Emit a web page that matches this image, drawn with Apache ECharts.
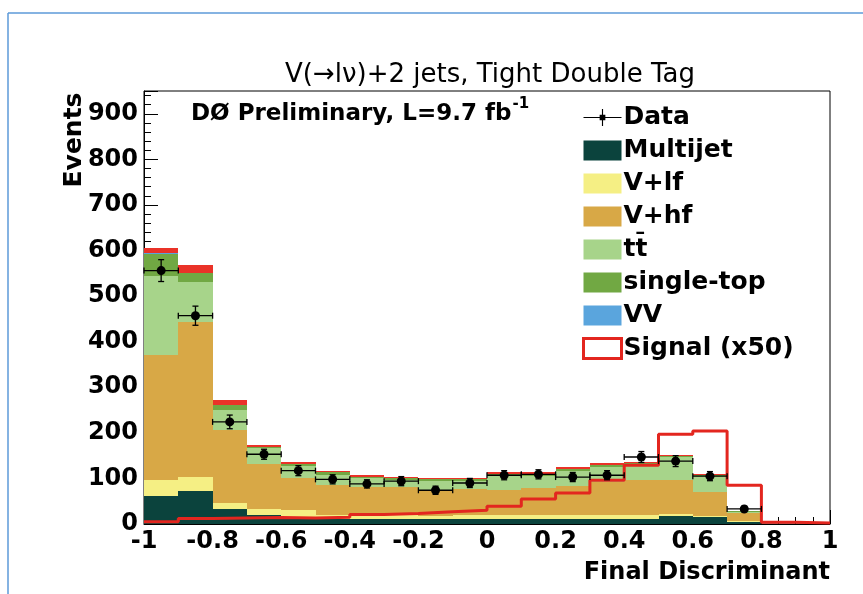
<!DOCTYPE html>
<html>
<head>
<meta charset="utf-8">
<script src="https://cdn.jsdelivr.net/npm/echarts@6/dist/echarts.min.js"></script>
<style>
  html, body { margin: 0; padding: 0; background: #fff; }
  #chart { width: 863px; height: 594px; }
</style>
</head>
<body>
<div id="chart"></div>
<script>
// bins of the final discriminant, width 0.1
const binLow = [-1, -0.9, -0.8, -0.7, -0.6, -0.5, -0.4, -0.3, -0.2, -0.1, 0, 0.1, 0.2, 0.3, 0.4, 0.5, 0.6, 0.7, 0.8, 0.9];
const binWidth = 0.1;

// stacked backgrounds (events per bin), bottom to top
const multijet  = [61, 72, 33, 20, 14, 12, 12, 12, 12, 12, 12, 12, 12, 12, 12, 18, 15, 4, 0, 0];
const vlf       = [35, 31, 13, 13, 16, 8, 12, 12, 6, 8, 8, 8, 8, 8, 8, 5, 2, 2, 0, 0];
const vhf       = [274, 341, 160, 99, 70, 65, 57, 57, 56, 56, 54, 59, 63, 72, 76, 73, 53, 19, 0, 0];
const ttbar     = [175, 86, 44, 34, 28, 23, 19, 16, 21, 19, 31, 27, 33, 33, 35, 50, 35, 2, 0, 0];
const singleTop = [48, 20, 10, 2, 4, 5, 4, 3, 3, 3, 4, 3, 4, 4, 3, 3, 2, 1, 0, 0];
const vv        = [1, 1, 0, 0, 0, 0, 0, 0, 0, 0, 0, 0, 0, 0, 0, 0, 0, 0, 0, 0];
const topBand   = [12, 18, 12, 6, 5, 4, 4, 4, 4, 4, 4, 4, 4, 4, 3, 3, 2, 0, 0, 0];

// data and signal x50
const dataCounts = [556, 457, 224, 153, 117, 98, 88, 94, 74, 90, 107, 109, 103, 107, 147, 138, 105, 33, null, null];
const dataErr    = [24, 21, 15, 11, 11, 10, 9, 10, 9, 10, 10, 10, 10, 10, 12, 12, 10, 6, null, null];
const signal50   = [5, 12, 13, 14, 13, 15, 21, 23, 27, 30, 39, 55, 68, 96, 129, 197, 204, 85, 4, 2];

const yTicks = [0, 100, 200, 300, 400, 500, 600, 700, 800, 900];

const layers = [
  { name: "Multijet", values: multijet, color: "#0b433d" },
  { name: "V+lf", values: vlf, color: "#f5ef84" },
  { name: "V+hf", values: vhf, color: "#d8a846" },
  { name: "tt\u0304", values: ttbar, color: "#a7d48a" },
  { name: "single-top", values: singleTop, color: "#71a843" },
  { name: "VV", values: vv, color: "#5aa5dd" },
  { name: "band", values: topBand, color: "#ea3228" },
];

const chart = echarts.init(document.getElementById("chart"));
const boldFont = "DejaVu Sans";

function renderBin(params, api) {
  const p0 = api.coord([api.value(0), api.value(3)]);
  const p1 = api.coord([api.value(1), api.value(2)]);
  const x0 = Math.round(p0[0]), x1 = Math.round(p1[0]);
  const y0 = Math.round(p0[1]), y1 = Math.round(p1[1]);
  if (y1 - y0 <= 0) return null;
  return {
    type: "rect",
    shape: { x: x0, y: y0, width: x1 - x0, height: y1 - y0 },
    style: { fill: api.visual("color") },
  };
}

function renderData(params, api) {
  const x = api.value(0), y = api.value(1), e = api.value(2);
  const c = api.coord([x, y]);
  const l = api.coord([x - binWidth / 2, y]);
  const r = api.coord([x + binWidth / 2, y]);
  const top = api.coord([x, y + e]);
  const bot = api.coord([x, y - e]);
  const ls = { stroke: "#000", lineWidth: 1.3 };
  return {
    type: "group",
    children: [
      { type: "line", shape: { x1: l[0], y1: l[1], x2: r[0], y2: r[1] }, style: ls },
      { type: "line", shape: { x1: l[0], y1: l[1] - 3, x2: l[0], y2: l[1] + 3 }, style: ls },
      { type: "line", shape: { x1: r[0], y1: r[1] - 3, x2: r[0], y2: r[1] + 3 }, style: ls },
      { type: "line", shape: { x1: c[0], y1: top[1], x2: c[0], y2: bot[1] }, style: ls },
      { type: "line", shape: { x1: c[0] - 3, y1: top[1], x2: c[0] + 3, y2: top[1] }, style: ls },
      { type: "line", shape: { x1: c[0] - 3, y1: bot[1], x2: c[0] + 3, y2: bot[1] }, style: ls },
      { type: "circle", shape: { cx: c[0], cy: c[1], r: 4.5 }, style: { fill: "#000" } },
    ],
  };
}

// build stacked bins
const base = binLow.map(() => 0);
const stackSeries = layers.map((layer) => {
  const items = binLow.map((lo, i) => {
    const b = base[i];
    base[i] += layer.values[i];
    return [lo, lo + binWidth, b, base[i]];
  });
  return {
    name: layer.name,
    type: "custom",
    renderItem: renderBin,
    itemStyle: { color: layer.color },
    encode: { x: [0, 1], y: [2, 3] },
    data: items,
    z: 2,
    silent: true,
  };
});

const signalLine = binLow.map((lo, i) => [lo, signal50[i]]);
signalLine.push([binLow[binLow.length - 1] + binWidth, signal50[signal50.length - 1]]);

const dataPoints = [];
binLow.forEach((lo, i) => {
  if (dataCounts[i] != null) dataPoints.push([lo + binWidth / 2, dataCounts[i], dataErr[i]]);
});

// measure the label so the superscript sits right after it
const ctx = document.createElement("canvas").getContext("2d");
ctx.font = 'bold 23px "' + boldFont + '"';
const prelimText = "D\u00d8 Preliminary, L=9.7 fb";
const prelimW = ctx.measureText(prelimText).width;

chart.setOption({
  backgroundColor: "#fff",
  animation: false,
  grid: { left: 144, right: 33, top: 91, bottom: 70, show: true, borderColor: "#000", borderWidth: 1, backgroundColor: "transparent" },
  xAxis: {
    type: "value",
    min: -1,
    max: 1,
    interval: 0.2,
    axisLine: { onZero: false, lineStyle: { color: "#000", width: 1 } },
    axisTick: { inside: true, length: 14, lineStyle: { color: "#000" } },
    minorTick: { show: true, splitNumber: 4, length: 7, lineStyle: { color: "#000" } },
    splitLine: { show: false },
    axisLabel: {
      color: "#000", fontFamily: boldFont, fontWeight: "bold", fontSize: 24, margin: 6,
      formatter: (v) => String(Number(v.toFixed(1))),
    },
  },
  yAxis: {
    type: "value",
    min: yTicks[0],
    max: 950,
    interval: 100,
    axisLine: { show: true, onZero: false, lineStyle: { color: "#000", width: 1 } },
    axisTick: { inside: true, length: 14, lineStyle: { color: "#000" } },
    minorTick: { show: true, splitNumber: 5, length: 7, lineStyle: { color: "#000" } },
    splitLine: { show: false },
    axisLabel: {
      color: "#000", fontFamily: boldFont, fontWeight: "bold", fontSize: 24, margin: 6,
      showMaxLabel: false,
      formatter: (v) => (yTicks.indexOf(v) >= 0 ? String(v) : ""),
    },
  },
  legend: {
    orient: "vertical",
    left: 577,
    top: 100,
    itemWidth: 38,
    itemHeight: 20,
    itemGap: 8,
    selectedMode: false,
    textStyle: { color: "#000", fontFamily: boldFont, fontWeight: "bold", fontSize: 25, lineHeight: 22, padding: [0, 0, 0, -3] },
    data: [
      { name: "Data", icon: "path://M0,9.4H40V10.6H0Z M19.4,1H20.6V19H19.4Z M17,7H23V13H17Z", itemStyle: { color: "#000" } },
      { name: "Multijet", icon: "rect" },
      { name: "V+lf", icon: "rect" },
      { name: "V+hf", icon: "rect" },
      { name: "tt\u0304", icon: "rect" },
      { name: "single-top", icon: "rect" },
      { name: "VV", icon: "rect" },
      { name: "Signal (x50)", icon: "rect", itemStyle: { color: "#fff", borderColor: "#e3261f", borderWidth: 3 } },
    ],
  },
  graphic: [
    { type: "line", shape: { x1: 8, y1: 13, x2: 863, y2: 13 }, style: { stroke: "#5d9ad8", lineWidth: 1.5 } },
    { type: "line", shape: { x1: 8, y1: 13, x2: 8, y2: 594 }, style: { stroke: "#5d9ad8", lineWidth: 1.5 } },
    {
      type: "text", x: 490, y: 75,
      style: { text: "V(\u2192l\u03bd)+2 jets, Tight Double Tag", fill: "#000", fontFamily: "DejaVu Sans", fontSize: 26, align: "center", verticalAlign: "middle" },
    },
    {
      type: "text", x: 191, y: 114,
      style: { text: prelimText, fill: "#000", fontFamily: boldFont, fontWeight: "bold", fontSize: 23, align: "left", verticalAlign: "middle" },
    },
    {
      type: "text", x: 191 + prelimW + 1, y: 104,
      style: { text: "-1", fill: "#000", fontFamily: boldFont, fontWeight: "bold", fontSize: 15, align: "left", verticalAlign: "middle" },
    },
    {
      type: "text", x: 74, y: 140, rotation: Math.PI / 2,
      style: { text: "Events", fill: "#000", fontFamily: boldFont, fontWeight: "bold", fontSize: 25, align: "center", verticalAlign: "middle" },
    },
    {
      type: "text", x: 830, y: 573,
      style: { text: "Final Discriminant", fill: "#000", fontFamily: boldFont, fontWeight: "bold", fontSize: 24, align: "right", verticalAlign: "middle" },
    },
  ],
  series: [
    ...stackSeries,
    {
      name: "Signal (x50)",
      type: "line",
      step: "end",
      data: signalLine,
      symbol: "none",
      lineStyle: { color: "#e3261f", width: 3 },
      itemStyle: { color: "#e3261f" },
      z: 4,
      silent: true,
    },
    {
      name: "Data",
      type: "custom",
      renderItem: renderData,
      itemStyle: { color: "#000" },
      encode: { x: 0, y: 1 },
      data: dataPoints,
      z: 5,
      silent: true,
    },
  ],
});
</script>
</body>
</html>
